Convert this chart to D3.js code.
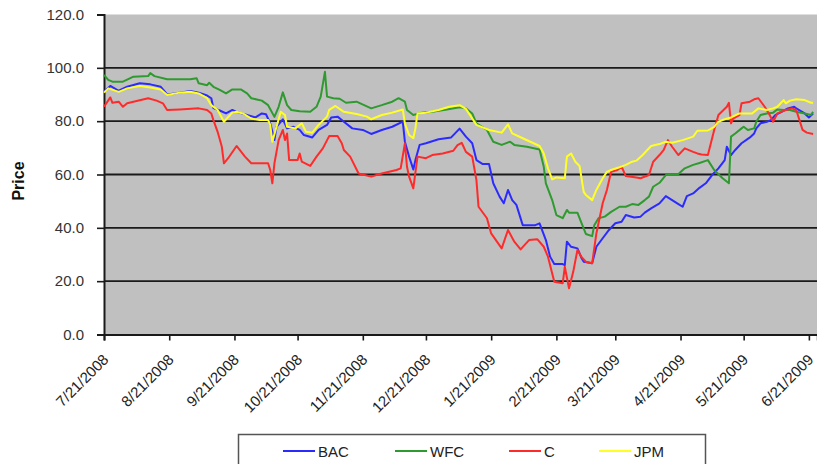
<!DOCTYPE html>
<html>
<head>
<meta charset="utf-8">
<script src="https://cdn.jsdelivr.net/npm/d3@7"></script>
<style>
  body { margin: 0; background: #fff; }
  text { font-family: "Liberation Sans", Arial, sans-serif; }
</style>
</head>
<body>
<svg id="chart" width="817" height="464"></svg>
<script>
// Axis tick labels
const dateTicks = ["7/21/2008","8/21/2008","9/21/2008","10/21/2008","11/21/2008","12/21/2008",
  "1/21/2009","2/21/2009","3/21/2009","4/21/2009","5/21/2009","6/21/2009"];
const priceTicks = [0, 20, 40, 60, 80, 100, 120];

// Series names and colours
const tickers = ["BAC", "WFC", "C", "JPM"];
const colors = ["#2b2bff", "#2f9a2f", "#ff2b2b", "#ffff26"];

// Closing prices: [date, price]
const bac = [["7/21/08",91.0],["7/24/08",93.2],["7/28/08",91.4],["8/1/08",92.9],["8/7/08",94.2],["8/12/08",93.8],["8/17/08",92.9],["8/20/08",90.0],["8/26/08",90.7],["8/31/08",91.3],["9/4/08",90.7],["9/8/08",89.6],["9/10/08",88.6],["9/11/08",84.9],["9/14/08",84.0],["9/17/08",82.9],["9/20/08",84.2],["9/22/08",83.5],["9/27/08",82.3],["10/1/08",81.4],["10/4/08",82.9],["10/6/08",82.6],["10/8/08",79.2],["10/10/08",72.9],["10/11/08",77.9],["10/14/08",80.7],["10/16/08",77.3],["10/19/08",77.9],["10/22/08",76.7],["10/24/08",74.8],["10/28/08",73.9],["10/31/08",76.7],["11/4/08",78.6],["11/6/08",81.4],["11/9/08",81.7],["11/12/08",79.8],["11/16/08",77.3],["11/21/08",76.7],["11/25/08",75.2],["11/30/08",76.7],["12/5/08",77.9],["12/10/08",79.8],["12/11/08",72.3],["12/13/08",66.7],["12/15/08",61.9],["12/16/08",65.4],["12/18/08",71.1],["12/21/08",71.7],["12/27/08",73.2],["1/2/09",73.9],["1/6/09",77.2],["1/9/09",74.2],["1/12/09",71.7],["1/14/09",65.4],["1/17/09",63.9],["1/20/09",63.9],["1/22/09",56.7],["1/25/09",51.7],["1/27/09",49.2],["1/29/09",54.2],["1/31/09",50.4],["2/2/09",48.6],["2/5/09",41.0],["2/11/09",41.0],["2/13/09",41.7],["2/16/09",35.4],["2/18/09",29.2],["2/20/09",26.4],["2/24/09",26.4],["2/25/09",26.0],["2/26/09",34.8],["2/28/09",32.9],["3/3/09",32.3],["3/5/09",28.6],["3/6/09",27.3],["3/10/09",26.7],["3/12/09",32.9],["3/15/09",36.1],["3/18/09",39.2],["3/21/09",41.7],["3/24/09",42.3],["3/26/09",44.8],["3/30/09",43.9],["4/2/09",44.2],["4/4/09",45.7],["4/7/09",47.3],["4/11/09",49.2],["4/14/09",51.9],["4/20/09",48.9],["4/22/09",47.9],["4/24/09",51.9],["4/27/09",52.9],["4/30/09",55.0],["5/3/09",56.7],["5/6/09",59.8],["5/9/09",62.3],["5/12/09",65.4],["5/13/09",70.4],["5/15/09",67.3],["5/17/09",69.2],["5/20/09",71.7],["5/24/09",73.9],["5/26/09",75.4],["5/27/09",77.3],["5/29/09",79.2],["6/1/09",79.8],["6/3/09",80.4],["6/5/09",82.3],["6/8/09",83.5],["6/11/09",84.8],["6/14/09",85.4],["6/15/09",84.8],["6/19/09",82.9],["6/21/09",81.4],["6/23/09",82.9]];

const wfc = [["7/21/08",97.3],["7/23/08",95.5],["7/25/08",94.8],["7/30/08",94.8],["8/4/08",96.7],["8/11/08",96.9],["8/12/08",98.0],["8/14/08",96.9],["8/20/08",95.7],["8/31/08",95.7],["9/3/08",96.1],["9/4/08",94.2],["9/8/08",93.5],["9/9/08",94.4],["9/11/08",92.9],["9/14/08",91.7],["9/17/08",90.4],["9/20/08",91.9],["9/24/08",91.9],["9/27/08",90.4],["9/29/08",88.6],["10/4/08",87.7],["10/7/08",86.0],["10/10/08",81.6],["10/12/08",85.4],["10/14/08",90.8],["10/16/08",86.0],["10/18/08",84.2],["10/22/08",83.7],["10/27/08",83.5],["10/30/08",85.4],["11/1/08",89.2],["11/3/08",98.5],["11/4/08",89.2],["11/7/08",88.6],["11/10/08",88.4],["11/13/08",86.9],["11/18/08",87.3],["11/25/08",84.8],["11/30/08",86.0],["12/5/08",87.3],["12/8/08",88.6],["12/11/08",87.3],["12/12/08",84.2],["12/15/08",82.3],["12/19/08",83.2],["12/24/08",83.5],["12/31/08",84.4],["1/6/09",85.2],["1/9/09",84.8],["1/12/09",82.9],["1/14/09",79.2],["1/19/09",76.7],["1/22/09",72.3],["1/26/09",71.1],["1/30/09",72.3],["2/1/09",71.1],["2/7/09",70.4],["2/13/09",69.4],["2/15/09",62.9],["2/16/09",56.7],["2/19/09",50.4],["2/21/09",44.8],["2/24/09",43.6],["2/26/09",46.7],["2/27/09",45.7],["3/3/09",45.7],["3/5/09",41.7],["3/7/09",37.7],["3/10/09",36.9],["3/11/09",41.0],["3/13/09",43.6],["3/16/09",44.2],["3/19/09",46.0],["3/23/09",47.9],["3/26/09",47.9],["3/29/09",48.9],["4/1/09",48.6],["4/4/09",50.4],["4/6/09",51.7],["4/8/09",55.4],["4/11/09",56.9],["4/14/09",59.8],["4/20/09",60.2],["4/23/09",62.3],["4/27/09",63.6],["4/30/09",64.3],["5/4/09",65.4],["5/7/09",61.7],["5/11/09",58.6],["5/14/09",56.7],["5/15/09",74.2],["5/17/09",75.4],["5/20/09",77.3],["5/21/09",77.9],["5/23/09",76.7],["5/26/09",77.3],["5/27/09",79.8],["5/29/09",82.3],["6/1/09",82.9],["6/4/09",83.2],["6/6/09",84.4],["6/9/09",84.2],["6/12/09",84.2],["6/15/09",83.5],["6/19/09",82.9],["6/22/09",82.3],["6/23/09",83.5]];

const citi = [["7/21/08",85.4],["7/24/08",88.9],["7/25/08",86.9],["7/28/08",87.3],["7/30/08",85.4],["8/1/08",86.7],["8/4/08",87.3],["8/11/08",88.6],["8/15/08",87.7],["8/18/08",86.7],["8/20/08",84.2],["8/26/08",84.4],["9/4/08",84.8],["9/8/08",84.2],["9/10/08",82.9],["9/11/08",80.4],["9/13/08",76.0],["9/15/08",70.4],["9/16/08",64.2],["9/18/08",66.1],["9/22/08",70.7],["9/26/08",66.7],["9/29/08",64.2],["10/7/08",64.2],["10/8/08",61.7],["10/9/08",56.7],["10/10/08",64.2],["10/12/08",72.9],["10/14/08",76.7],["10/15/08",72.9],["10/16/08",75.4],["10/17/08",65.4],["10/21/08",65.4],["10/22/08",67.9],["10/23/08",64.8],["10/27/08",63.2],["10/30/08",66.7],["11/2/08",69.8],["11/5/08",74.4],["11/9/08",74.4],["11/11/08",71.7],["11/12/08",69.2],["11/15/08",66.7],["11/19/08",60.4],["11/25/08",59.2],["11/30/08",60.4],["12/7/08",61.7],["12/9/08",62.3],["12/11/08",71.7],["12/12/08",62.9],["12/13/08",59.2],["12/15/08",54.8],["12/17/08",66.7],["12/21/08",66.1],["12/24/08",67.3],["12/29/08",67.9],["1/3/09",68.9],["1/5/09",71.0],["1/7/09",71.9],["1/9/09",68.5],["1/12/09",66.7],["1/14/09",57.9],["1/15/09",47.9],["1/19/09",43.6],["1/21/09",37.9],["1/26/09",32.3],["1/29/09",39.2],["2/1/09",34.8],["2/4/09",31.9],["2/8/09",35.4],["2/12/09",35.7],["2/15/09",32.9],["2/17/09",29.2],["2/20/09",19.8],["2/24/09",19.2],["2/25/09",25.4],["2/27/09",17.3],["3/1/09",23.5],["3/3/09",31.7],["3/5/09",29.0],["3/7/09",27.3],["3/10/09",26.7],["3/12/09",37.9],["3/15/09",49.2],["3/17/09",54.2],["3/19/09",61.0],["3/22/09",61.7],["3/24/09",62.9],["3/26/09",59.4],["3/31/09",58.9],["4/2/09",58.6],["4/6/09",59.8],["4/8/09",64.8],["4/11/09",67.3],["4/13/09",69.2],["4/15/09",72.9],["4/17/09",70.4],["4/20/09",67.3],["4/23/09",69.8],["4/27/09",68.5],["4/29/09",67.9],["5/1/09",67.5],["5/4/09",67.3],["5/7/09",76.7],["5/9/09",82.3],["5/13/09",85.4],["5/14/09",86.9],["5/15/09",79.2],["5/16/09",81.0],["5/19/09",82.3],["5/20/09",86.7],["5/24/09",87.3],["5/26/09",88.2],["5/28/09",88.6],["5/31/09",85.4],["6/2/09",82.9],["6/4/09",79.8],["6/6/09",82.9],["6/10/09",84.2],["6/13/09",84.8],["6/15/09",84.2],["6/16/09",81.7],["6/18/09",76.7],["6/20/09",75.7],["6/23/09",75.2]];

const jpm = [["7/21/08",90.7],["7/23/08",92.3],["7/28/08",91.0],["8/1/08",92.3],["8/7/08",93.2],["8/12/08",92.6],["8/17/08",91.9],["8/20/08",89.8],["8/26/08",90.7],["8/31/08",91.0],["9/4/08",90.4],["9/8/08",88.6],["9/10/08",86.0],["9/13/08",84.2],["9/16/08",79.8],["9/20/08",83.2],["9/22/08",83.5],["9/25/08",82.9],["9/29/08",81.0],["10/3/08",80.4],["10/7/08",80.4],["10/8/08",78.6],["10/9/08",72.3],["10/11/08",77.9],["10/13/08",83.5],["10/15/08",82.3],["10/16/08",77.9],["10/20/08",77.3],["10/23/08",79.2],["10/25/08",76.0],["10/28/08",75.7],["10/31/08",78.6],["11/4/08",81.7],["11/5/08",84.2],["11/8/08",85.7],["11/12/08",83.5],["11/18/08",82.7],["11/23/08",81.7],["11/25/08",80.7],["11/30/08",82.3],["12/5/08",83.2],["12/10/08",84.4],["12/11/08",79.2],["12/13/08",74.8],["12/15/08",73.6],["12/16/08",77.3],["12/17/08",82.9],["12/21/08",83.2],["12/27/08",84.2],["1/1/09",85.4],["1/6/09",86.0],["1/9/09",84.6],["1/12/09",81.0],["1/14/09",78.6],["1/20/09",76.7],["1/26/09",75.7],["1/29/09",78.8],["1/31/09",75.4],["2/5/09",73.6],["2/13/09",70.7],["2/15/09",67.9],["2/17/09",62.3],["2/19/09",58.2],["2/21/09",58.9],["2/25/09",58.6],["2/26/09",66.7],["2/28/09",67.9],["3/2/09",64.8],["3/4/09",63.2],["3/6/09",53.5],["3/7/09",52.3],["3/10/09",50.4],["3/12/09",54.2],["3/15/09",58.6],["3/17/09",61.0],["3/19/09",61.7],["3/23/09",62.7],["3/26/09",63.6],["3/29/09",64.8],["3/31/09",65.2],["4/3/09",67.3],["4/7/09",70.7],["4/11/09",71.4],["4/14/09",72.3],["4/17/09",71.9],["4/22/09",72.9],["4/27/09",74.2],["4/29/09",76.4],["5/4/09",76.5],["5/7/09",77.9],["5/9/09",79.8],["5/12/09",80.7],["5/15/09",81.4],["5/19/09",82.9],["5/25/09",82.9],["5/28/09",84.8],["6/1/09",84.2],["6/4/09",84.8],["6/6/09",85.4],["6/9/09",87.9],["6/10/09",86.7],["6/12/09",87.7],["6/15/09",88.2],["6/19/09",87.9],["6/22/09",86.9],["6/23/09",86.9]];

const seriesData = [bac, wfc, citi, jpm];

const parseShort = d3.timeParse("%m/%d/%y");
const parseLong = d3.timeParse("%m/%d/%Y");
const fmtLong = d => `${d.getMonth() + 1}/${d.getDate()}/${d.getFullYear()}`;

const svg = d3.select("#chart");
const plot = { left: 104, top: 14.5, bottom: 334.5, right: 817.3 };

const x = d3.scaleTime()
  .domain([parseLong("7/21/2008"), parseLong("6/25/2009")])
  .range([plot.left, plot.right]);
const y = d3.scaleLinear().domain([0, 120]).range([plot.bottom, plot.top]);

// plot background
svg.append("rect")
  .attr("x", plot.left).attr("y", plot.top)
  .attr("width", 817 - plot.left).attr("height", plot.bottom - plot.top)
  .attr("fill", "#c0c0c0");

// horizontal gridlines
svg.append("g")
  .selectAll("line")
  .data(priceTicks.filter(v => v > 0 && v < 120))
  .join("line")
  .attr("x1", plot.left).attr("x2", 817)
  .attr("y1", d => y(d)).attr("y2", d => y(d))
  .attr("stroke", "#1a1a1a").attr("stroke-width", 1.8);

// Y axis
const yAxis = svg.append("g")
  .attr("transform", `translate(${plot.left},0)`)
  .call(d3.axisLeft(y).tickValues(priceTicks).tickFormat(d3.format(".1f")).tickSize(7).tickPadding(13));
yAxis.select(".domain").attr("stroke", "#1a1a1a").attr("stroke-width", 2);
yAxis.selectAll(".tick line").attr("stroke", "#1a1a1a").attr("stroke-width", 1.6);
yAxis.selectAll(".tick text").attr("font-size", 15).attr("fill", "#333")
  .style("font-family", "'Liberation Sans', Arial, sans-serif");

// X axis
const xAxis = svg.append("g")
  .attr("transform", `translate(0,${plot.bottom})`)
  .call(d3.axisBottom(x).tickValues(dateTicks.map(parseLong)).tickFormat(fmtLong).tickSize(6));
xAxis.select(".domain").attr("stroke", "#1a1a1a").attr("stroke-width", 2);
xAxis.selectAll(".tick line").attr("stroke", "#1a1a1a").attr("stroke-width", 1.6);
xAxis.selectAll(".tick text")
  .attr("font-size", 15).attr("fill", "#222")
  .style("font-family", "'Liberation Sans', Arial, sans-serif")
  .attr("text-anchor", "end")
  .attr("dy", null).attr("y", null)
  .attr("transform", "translate(5,26) rotate(-45)");

// Y axis title
svg.append("text")
  .attr("transform", "translate(24,181) rotate(-90)")
  .attr("text-anchor", "middle")
  .attr("font-size", 16).attr("font-weight", "bold").attr("fill", "#111")
  .text("Price");

// price lines
const line = d3.line()
  .x(d => x(parseShort(d[0])))
  .y(d => y(d[1]));

svg.append("g")
  .selectAll("path")
  .data(seriesData)
  .join("path")
  .attr("d", line)
  .attr("fill", "none")
  .attr("stroke", (d, i) => colors[i])
  .attr("stroke-width", 2)
  .attr("stroke-linejoin", "round");

// legend
const legend = svg.append("g");
legend.append("rect")
  .attr("x", 238.5).attr("y", 434.5).attr("width", 467).attr("height", 40)
  .attr("fill", "#fff").attr("stroke", "#555").attr("stroke-width", 1.5);
const legendX = [283, 395, 509, 599];
const item = legend.selectAll("g.item")
  .data(tickers)
  .join("g")
  .attr("class", "item")
  .attr("transform", (d, i) => `translate(${legendX[i]},451)`);
item.append("line")
  .attr("x1", 0).attr("x2", 32)
  .attr("stroke", (d, i) => colors[i]).attr("stroke-width", 2);
item.append("text")
  .attr("x", 35).attr("y", 5.5)
  .attr("font-size", 15).attr("fill", "#222")
  .text(d => d);
</script>
</body>
</html>
